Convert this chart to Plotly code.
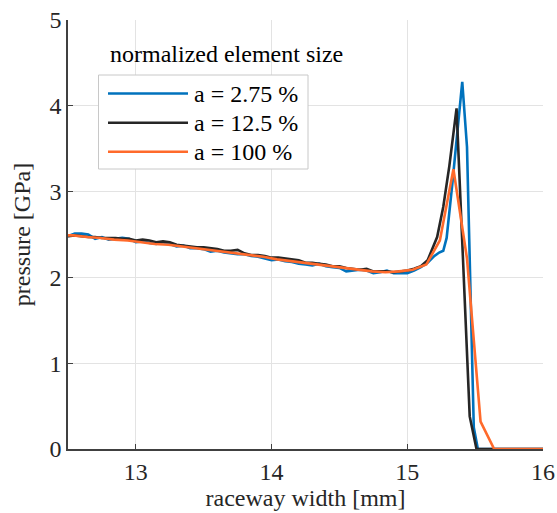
import plotly.graph_objects as go

# ---- data ----
x_blue = [12.50, 12.55, 12.60, 12.65, 12.70, 12.75, 12.80, 12.85, 12.90, 12.95,
          13.00, 13.05, 13.10, 13.15, 13.20, 13.25, 13.30, 13.35, 13.40, 13.45,
          13.50, 13.55, 13.60, 13.65, 13.70, 13.75, 13.80, 13.85, 13.90, 13.95,
          14.00, 14.05, 14.10, 14.15, 14.20, 14.25, 14.30, 14.35, 14.40, 14.45,
          14.50, 14.55, 14.60, 14.65, 14.70, 14.75, 14.80, 14.85, 14.90, 14.95,
          15.00, 15.05, 15.10, 15.15, 15.20, 15.235, 15.265, 15.29, 15.33, 15.405,
          15.44, 15.49, 15.52, 16.00]
y_blue = [2.48, 2.51, 2.51, 2.50, 2.45, 2.47, 2.44, 2.45, 2.46, 2.45,
          2.41, 2.42, 2.40, 2.39, 2.41, 2.39, 2.36, 2.37, 2.34, 2.34,
          2.33, 2.30, 2.31, 2.29, 2.28, 2.27, 2.27, 2.25, 2.24, 2.22,
          2.20, 2.21, 2.19, 2.18, 2.16, 2.15, 2.14, 2.16, 2.13, 2.12,
          2.11, 2.07, 2.08, 2.09, 2.08, 2.05, 2.06, 2.08, 2.05, 2.05,
          2.05, 2.08, 2.12, 2.17, 2.25, 2.29, 2.31, 2.46, 3.06, 4.28,
          3.52, 0.25, 0.0, 0.0]

x_black = [12.50, 12.55, 12.60, 12.65, 12.70, 12.75, 12.80, 12.85, 12.90, 12.95,
           13.00, 13.05, 13.10, 13.15, 13.20, 13.25, 13.30, 13.35, 13.40, 13.45,
           13.50, 13.55, 13.60, 13.65, 13.70, 13.75, 13.80, 13.85, 13.90, 13.95,
           14.00, 14.05, 14.10, 14.15, 14.20, 14.25, 14.30, 14.35, 14.40, 14.45,
           14.50, 14.55, 14.60, 14.65, 14.70, 14.75, 14.80, 14.85, 14.90, 14.95,
           15.00, 15.05, 15.10, 15.15, 15.22, 15.265, 15.31, 15.363, 15.46, 15.51,
           16.00]
y_black = [2.48, 2.49, 2.48, 2.47, 2.47, 2.46, 2.46, 2.46, 2.45, 2.45,
           2.43, 2.44, 2.43, 2.41, 2.42, 2.41, 2.38, 2.37, 2.36, 2.35,
           2.35, 2.34, 2.33, 2.31, 2.31, 2.32, 2.28, 2.26, 2.26, 2.25,
           2.23, 2.23, 2.22, 2.21, 2.20, 2.17, 2.17, 2.16, 2.15, 2.13,
           2.13, 2.11, 2.10, 2.09, 2.10, 2.07, 2.07, 2.07, 2.06, 2.07,
           2.08, 2.10, 2.13, 2.20, 2.47, 2.82, 3.30, 3.97, 0.38, 0.0,
           0.0]

x_orange = [12.44, 12.54, 12.64, 12.74, 12.84, 12.94, 13.04, 13.14, 13.24, 13.34,
            13.44, 13.54, 13.64, 13.74, 13.84, 13.94, 14.04, 14.14, 14.24, 14.34,
            14.44, 14.54, 14.64, 14.74, 14.84, 14.94, 15.04, 15.14, 15.24, 15.34,
            15.44, 15.54, 15.64, 16.00]
y_orange = [2.49, 2.49, 2.47, 2.46, 2.44, 2.43, 2.41, 2.39, 2.38, 2.36,
            2.34, 2.32, 2.30, 2.28, 2.26, 2.24, 2.21, 2.19, 2.17, 2.15,
            2.13, 2.11, 2.09, 2.07, 2.06, 2.07, 2.09, 2.15, 2.43, 3.26,
            2.22, 0.32, 0.0, 0.0]

series_names = ["a = 2.75 %", "a = 12.5 %", "a = 100 %"]
series_colors = ["#0072BD", "#262626", "#FF6A2B"]
legend_title = "normalized element size"
x_ticks = [13, 14, 15, 16]
y_ticks = [0, 1, 2, 3, 4, 5]

FONT = "'Liberation Serif', 'Times New Roman', 'DejaVu Serif', serif"
FS = 24
W, H = 557, 513
ML, MR, MT, MB = 68, 14, 20, 64
PW, PH = W - ML - MR, H - MT - MB


def px(x):
    return (x - ML) / PW


def py(y):
    return (H - MB - y) / PH


fig = go.Figure()
for xs, ys, name, col in zip([x_blue, x_black, x_orange], [y_blue, y_black, y_orange],
                             series_names, series_colors):
    fig.add_trace(go.Scatter(x=xs, y=ys, mode="lines", name=name,
                             line=dict(color=col, width=2.6), showlegend=False))

axis_common = dict(showline=True, linecolor="#404040", linewidth=1.5, mirror=False,
                   showgrid=True, gridcolor="#e3e3e3", gridwidth=1, automargin=False,
                   ticks="inside", ticklen=5, tickcolor="#404040", tickwidth=1,
                   zeroline=False, tickfont=dict(family=FONT, size=FS, color="#262626"),
                   title_font=dict(family=FONT, size=FS, color="#262626"))

fig.update_xaxes(range=[12.5, 16], tickvals=x_ticks, title_text="raceway width [mm]",
                 title_standoff=4, **axis_common)
fig.update_yaxes(range=[0, 5], tickvals=y_ticks, title_text="pressure [GPa]",
                 title_standoff=12, **axis_common)

# custom legend (box with long line samples) and its title above
shapes = [dict(type="rect", xref="paper", yref="paper", x0=px(98.5), x1=px(308),
               y0=py(169), y1=py(75), fillcolor="white",
               line=dict(color="#c8c8c8", width=1), layer="above")]
annotations = [dict(text=legend_title, xref="paper", yref="paper", x=px(108), y=py(54),
                    xanchor="left", yanchor="middle", showarrow=False,
                    font=dict(family=FONT, size=FS, color="#000000"))]
rows = [93.5, 122.7, 151.7]
for name, col, ry in zip(series_names, series_colors, rows):
    shapes.append(dict(type="line", xref="paper", yref="paper", x0=px(108), x1=px(188),
                       y0=py(ry), y1=py(ry), line=dict(color=col, width=2.6), layer="above"))
    annotations.append(dict(text=name, xref="paper", yref="paper", x=px(192), y=py(ry),
                            xanchor="left", yanchor="middle", showarrow=False,
                            font=dict(family=FONT, size=FS, color="#000000")))

fig.update_layout(width=W, height=H, margin=dict(l=ML, r=MR, t=MT, b=MB),
                  plot_bgcolor="white", paper_bgcolor="white",
                  font=dict(family=FONT),
                  shapes=shapes, annotations=annotations, showlegend=False)

fig.write_html("out.html")
